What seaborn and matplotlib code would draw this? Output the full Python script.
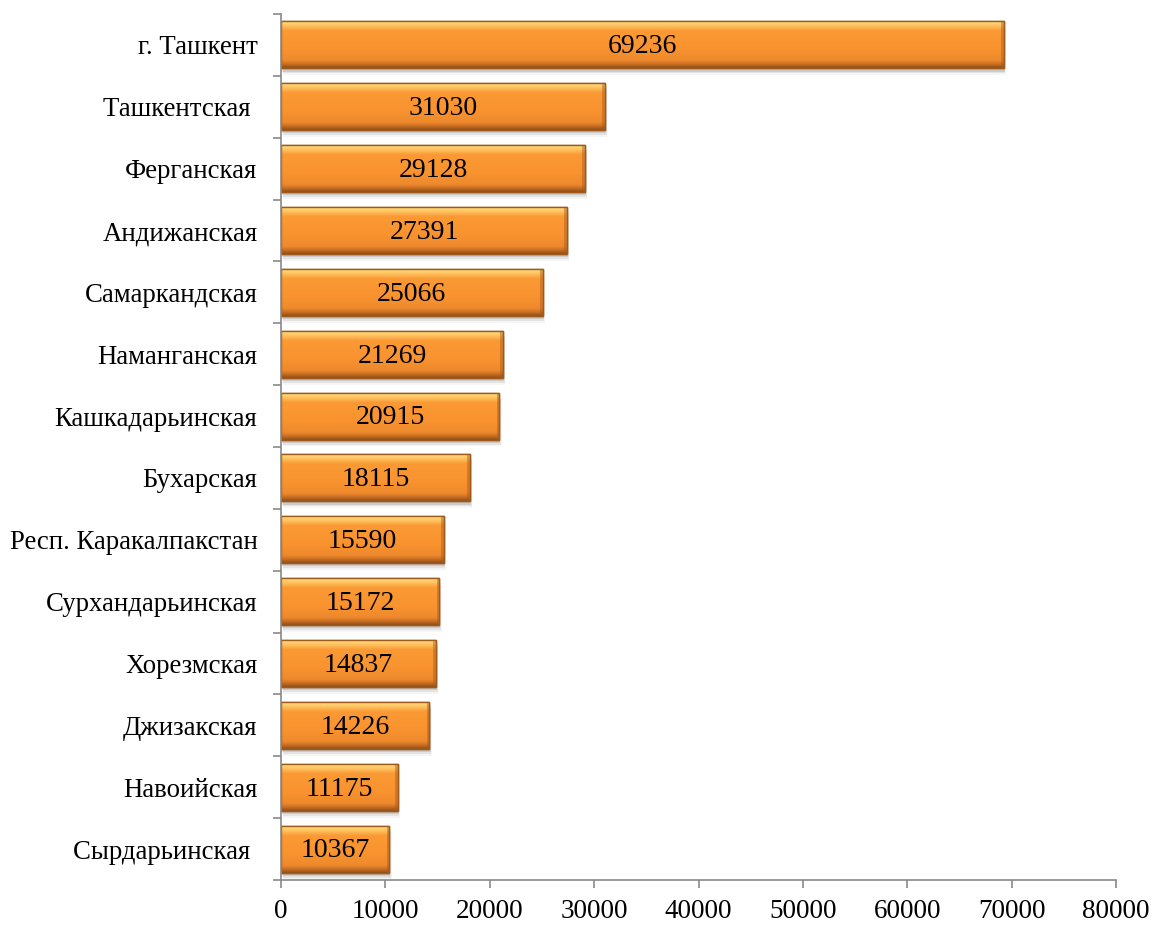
import numpy as np
import pandas as pd
import matplotlib
matplotlib.use("Agg")
import matplotlib.pyplot as plt
from matplotlib.colors import LinearSegmentedColormap
from matplotlib.patches import Rectangle
from matplotlib.ticker import FixedLocator
import seaborn as sns

regions = ["г. Ташкент", "Ташкентская ", "Ферганская", "Андижанская", "Самаркандская",
           "Наманганская", "Кашкадарьинская", "Бухарская", "Респ. Каракалпакстан",
           "Сурхандарьинская", "Хорезмская", "Джизакская", "Навоийская", "Сырдарьинская "]
values = [69236, 31030, 29128, 27391, 25066, 21269, 20915, 18115, 15590, 15172,
          14837, 14226, 11175, 10367]
xticks = [0, 10000, 20000, 30000, 40000, 50000, 60000, 70000, 80000]

sns.set_theme(style="white")
plt.rcParams['font.family'] = ['Liberation Serif', 'DejaVu Serif']

df = pd.DataFrame({"region": regions, "value": values})

fig = plt.figure(figsize=(11.54, 9.27), dpi=100)
ax = fig.add_axes([281/1154, 1-880/927, (1116-281)/1154, (880-14)/927])

sns.barplot(data=df, y="region", x="value", orient="h", ax=ax, color="#F7922F",
            width=0.76, edgecolor="#8F5019", linewidth=1.0, saturation=1)

grad = LinearSegmentedColormap.from_list("bev", [
    (0.00, "#F08A2A"),
    (0.04, "#FFDC78"),
    (0.12, "#FFC060"),
    (0.22, "#FB9A34"),
    (0.60, "#F9932F"),
    (0.84, "#EE8A2D"),
    (0.92, "#C86E22"),
    (1.00, "#8F5019"),
])
gimg = np.linspace(0, 1, 256).reshape(-1, 1)

for p in list(ax.patches):
    x0, y0 = p.get_x(), p.get_y()
    w, h = p.get_width(), p.get_height()
    # soft shadow
    for k, a in enumerate([0.10, 0.07, 0.04]):
        sh = Rectangle((x0 + 100 + 60 * k, y0 + 0.05 + 0.03 * k), w, h, facecolor="#000000",
                       alpha=a, edgecolor="none", zorder=p.get_zorder() - 0.5)
        ax.add_patch(sh)
    im = ax.imshow(gimg, cmap=grad, aspect="auto", extent=(x0, x0 + w, y0 + h, y0),
                   zorder=p.get_zorder() + 0.1, interpolation="bilinear")
    im.set_clip_path(p)
    # right edge bevel
    rb = Rectangle((x0 + w - 250, y0), 250, h, facecolor="#A65A1C", alpha=0.45,
                   edgecolor="none", zorder=p.get_zorder() + 0.2)
    ax.add_patch(rb)
    ax.add_patch(Rectangle((x0, y0), w, h, facecolor="none", edgecolor="#A05A1C",
                           linewidth=1.0, zorder=p.get_zorder() + 0.3))
    ax.text(x0 + w / 2, y0 + h / 2 + 0.03, f"{int(round(w))}", ha="center", va="center",
            fontsize=20, color="black", zorder=10)

ax.set_xlim(0, 80000)
ax.set_ylim(13.5, -0.5)
ax.set_xticks(xticks)
ax.set_xticklabels([str(t) for t in xticks])
ax.set_xlabel("")
ax.set_ylabel("")

for s in ["top", "right"]:
    ax.spines[s].set_visible(False)
for s in ["left", "bottom"]:
    ax.spines[s].set_color("#898989")
    ax.spines[s].set_linewidth(1.2)

ax.yaxis.set_minor_locator(FixedLocator(np.arange(-0.5, 14.0, 1.0)))
ax.tick_params(axis="y", which="major", length=0, pad=17, labelsize=19.3, labelcolor="black")
ax.tick_params(axis="y", which="minor", left=True, length=6, width=1.2, color="#898989", direction="out")
ax.tick_params(axis="x", which="major", bottom=True, length=6, width=1.2, color="#898989",
               direction="out", pad=8, labelsize=19.5, labelcolor="black")

fig.savefig("out.png", dpi=100)
